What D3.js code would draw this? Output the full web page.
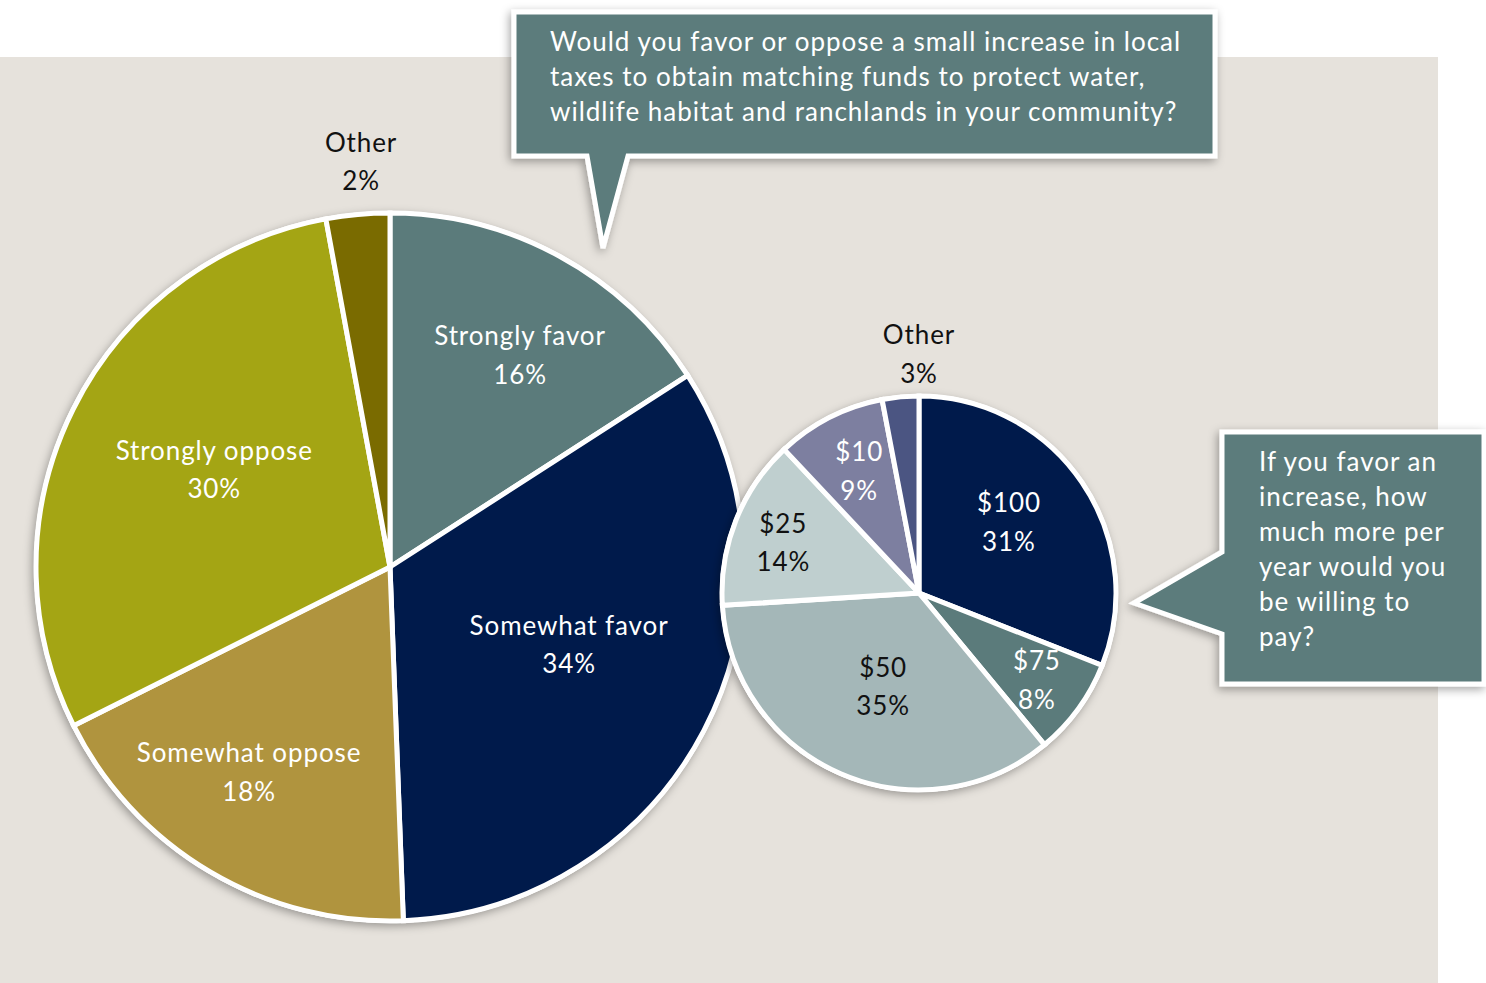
<!DOCTYPE html>
<html>
<head>
<meta charset="utf-8">
<script src="https://cdn.jsdelivr.net/npm/d3@7"></script>
<style>
  html, body { margin: 0; padding: 0; background: #ffffff; }
  svg { display: block; font-family: "Lato", "Open Sans", sans-serif; }
</style>
</head>
<body>
<svg id="chart" width="1486" height="983"></svg>
<script>
// ---- Data ----
const supportCategories = ["Strongly favor", "Somewhat favor", "Somewhat oppose", "Strongly oppose", "Other"];
const supportValues = [15.9, 33.5, 18.2, 29.5, 2.9];   // shares as drawn
const supportLabels = ["16%", "34%", "18%", "30%", "2%"];

const amountCategories = ["$100", "$75", "$50", "$25", "$10", "Other"];
const amountValues = [31, 8, 35, 14, 9, 3];
const amountLabels = ["31%", "8%", "35%", "14%", "9%", "3%"];

const question1 = ["Would you favor or oppose a small increase in local",
                   "taxes to obtain matching funds to protect water,",
                   "wildlife habitat and ranchlands in your community?"];
const question2 = ["If you favor an", "increase, how", "much more per",
                   "year would you", "be willing to", "pay?"];

// ---- Styling ----
const supportColors = ["#5b7b7b", "#001a4b", "#b0943e", "#a4a514", "#7a6b00"];
const supportText = ["#ffffff", "#ffffff", "#ffffff", "#ffffff", "#111111"];
const supportLabelR = [0.717, 0.545, 0.689, 0.576, 1.165];
const supportLabelTurn = [2.2, -5.7, 4.7, 4.0, 1.2];
const amountColors = ["#001a4b", "#5b7b7b", "#a4b7b8", "#bfcfcf", "#7d7fa0", "#4b5582"];
const amountText = ["#ffffff", "#ffffff", "#111111", "#111111", "#ffffff", "#111111"];
const amountLabelR = [0.601, 0.726, 0.482, 0.746, 0.716, 1.244];
const amountLabelTurn = [-6.4, -1.5, -1.2, 1.0, 1.9, 5.4];

const svg = d3.select("#chart");
const defs = svg.append("defs");
const f = defs.append("filter").attr("id", "shadow")
  .attr("x", "-20%").attr("y", "-20%").attr("width", "140%").attr("height", "140%");
f.append("feDropShadow").attr("dx", -2).attr("dy", 3).attr("stdDeviation", 5)
  .attr("flood-color", "#000").attr("flood-opacity", 0.35);

// background panel
svg.append("rect").attr("x", 0).attr("y", 57).attr("width", 1438).attr("height", 926)
  .attr("fill", "#e6e2dc");

const pie = d3.pie().sort(null).value(d => d.v);

function drawPie(cx, cy, r, cats, vals, labs, colors, txtColors, labelR, labelTurn) {
  const data = cats.map((c, i) => ({ c, v: vals[i], l: labs[i], i }));
  const g = svg.append("g").attr("transform", `translate(${cx},${cy})`);
  g.append("circle").attr("r", r + 2).attr("fill", "#fff").attr("filter", "url(#shadow)");
  const arc = d3.arc().innerRadius(0).outerRadius(r);
  const arcs = pie(data);
  g.selectAll("path.slice").data(arcs).join("path")
    .attr("class", "slice")
    .attr("d", arc)
    .attr("fill", d => colors[d.data.i])
    .attr("stroke", "#fff").attr("stroke-width", 5).attr("stroke-linejoin", "miter");
  const lab = g.selectAll("text.lab").data(arcs).join("text")
    .attr("class", "lab")
    .attr("text-anchor", "middle")
    .attr("font-size", 26)
    .attr("letter-spacing", 0.9)
    .attr("fill", d => txtColors[d.data.i])
    .attr("transform", d => {
      const rr = r * labelR[d.data.i];
      const a = (d.startAngle + d.endAngle) / 2 + labelTurn[d.data.i] * Math.PI / 180;
      return `translate(${rr * Math.sin(a)},${-rr * Math.cos(a)})`;
    });
  lab.append("tspan").attr("x", 0).attr("dy", "-0.15em").text(d => d.data.c);
  lab.append("tspan").attr("x", 0).attr("dy", "1.48em").text(d => d.data.l);
}

drawPie(390, 567, 354, supportCategories, supportValues, supportLabels,
        supportColors, supportText, supportLabelR, supportLabelTurn);
drawPie(919, 593, 197, amountCategories, amountValues, amountLabels,
        amountColors, amountText, amountLabelR, amountLabelTurn);

// ---- Callouts ----
function callout(pts, lines, tx, ty, lh) {
  svg.append("path")
    .attr("d", d3.line()(pts) + "Z")
    .attr("fill", "#5b7b7b").attr("stroke", "#fff").attr("stroke-width", 5)
    .attr("stroke-linejoin", "miter")
    .attr("filter", "url(#shadow)");
  const t = svg.append("text").attr("x", tx).attr("y", ty)
    .attr("fill", "#fff").attr("font-size", 26).attr("letter-spacing", 1);
  lines.forEach((ln, i) => {
    t.append("tspan").attr("x", tx).attr("y", ty + i * lh).text(ln);
  });
}

callout([[514, 12], [1215, 12], [1215, 156], [628, 156], [603, 248], [587, 156], [514, 156]],
        question1, 550, 51, 35);
callout([[1222, 432], [1484, 432], [1484, 684], [1222, 684], [1222, 634], [1134, 603], [1222, 552]],
        question2, 1259, 471, 35);
</script>
</body>
</html>
